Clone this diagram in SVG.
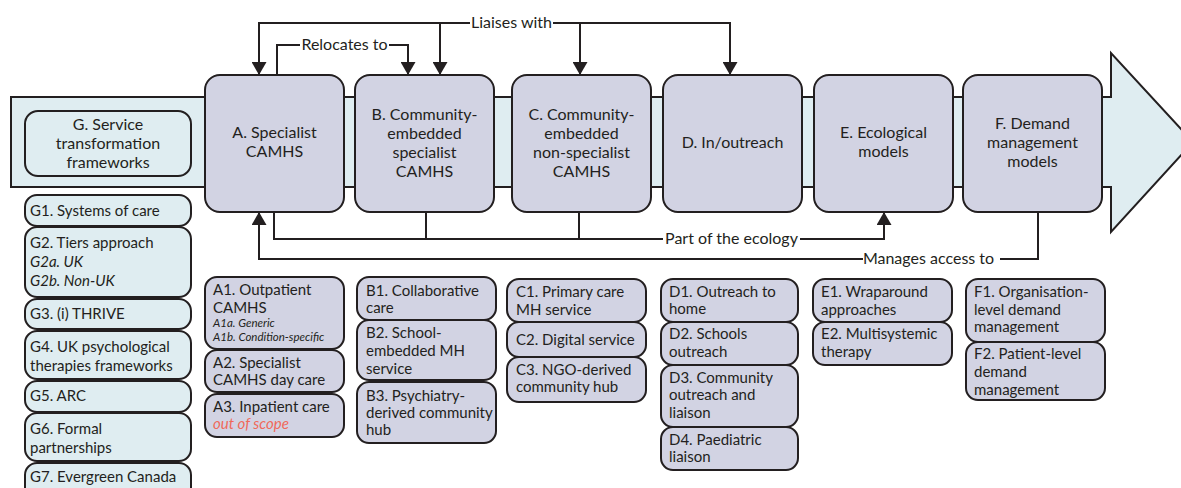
<svg xmlns="http://www.w3.org/2000/svg" width="1181" height="488" viewBox="0 0 1181 488">
<style>
text{font-family:Lato,"Open Sans","Liberation Sans",sans-serif;font-size:15px;fill:#231f20}
.c{text-anchor:middle;font-size:16px}
.it{font-style:italic}
.sm{font-size:11.5px;font-style:italic}
.red{fill:#f0695a;font-style:italic}
.bl{fill:#dfedf1;stroke:#231f20;stroke-width:2}
.lv{fill:#d2d3e3;stroke:#231f20;stroke-width:2}
.ln{fill:none;stroke:#231f20;stroke-width:2}
</style>
<defs>
<marker id="ah" markerUnits="userSpaceOnUse" viewBox="0 0 13 15" markerWidth="13" markerHeight="15" refX="13" refY="7.5" orient="auto">
<path d="M0,0 L13,7.5 L0,15 z" fill="#231f20"/>
</marker>
</defs>

<g id="arrow-band">
<polygon class="bl" points="11,97 1111,97 1111,53 1193,142 1111,232 1111,187 11,187"/>
</g>

<g id="G">
<rect class="bl" x="25" y="111" width="166" height="65" rx="13"/>
<text class="c" x="108" y="130">G. Service</text>
<text class="c" x="108" y="149">transformation</text>
<text class="c" x="108" y="168">frameworks</text>
</g>

<g id="A">
<rect class="lv" x="205" y="75" width="139" height="137" rx="15"/>
<text class="c" x="274.5" y="138">A. Specialist</text>
<text class="c" x="274.5" y="157">CAMHS</text>
</g>
<g id="B">
<rect class="lv" x="355" y="75" width="139" height="137" rx="15"/>
<text class="c" x="424.5" y="120">B. Community-</text>
<text class="c" x="424.5" y="139">embedded</text>
<text class="c" x="424.5" y="158">specialist</text>
<text class="c" x="424.5" y="177">CAMHS</text>
</g>
<g id="C">
<rect class="lv" x="512" y="75" width="139" height="137" rx="15"/>
<text class="c" x="581.5" y="120">C. Community-</text>
<text class="c" x="581.5" y="139">embedded</text>
<text class="c" x="581.5" y="158">non-specialist</text>
<text class="c" x="581.5" y="177">CAMHS</text>
</g>
<g id="D">
<rect class="lv" x="663" y="75" width="139" height="137" rx="15"/>
<text class="c" x="732.5" y="148">D. In/outreach</text>
</g>
<g id="E">
<rect class="lv" x="814" y="75" width="139" height="137" rx="15"/>
<text class="c" x="883.5" y="138">E. Ecological</text>
<text class="c" x="883.5" y="157">models</text>
</g>
<g id="F">
<rect class="lv" x="963" y="75" width="139" height="137" rx="15"/>
<text class="c" x="1032.5" y="129">F. Demand</text>
<text class="c" x="1032.5" y="148">management</text>
<text class="c" x="1032.5" y="167">models</text>
</g>

<g id="connectors">
<path class="ln" d="M470,23 H259 V75" marker-end="url(#ah)"/>
<path class="ln" d="M553,23 H730 V75" marker-end="url(#ah)"/>
<path class="ln" d="M440,23 V75" marker-end="url(#ah)"/>
<path class="ln" d="M580,23 V75" marker-end="url(#ah)"/>
<text class="c" x="511.5" y="28">Liaises with</text>
<path class="ln" d="M277,75 V45 H300"/>
<path class="ln" d="M389,45 H408 V75" marker-end="url(#ah)"/>
<text class="c" x="344.5" y="50">Relocates to</text>
<path class="ln" d="M274,212 V239 H663"/>
<path class="ln" d="M426,212 V239"/>
<path class="ln" d="M579,212 V239"/>
<path class="ln" d="M800,239 H884 V212" marker-end="url(#ah)"/>
<text class="c" x="731.5" y="244">Part of the ecology</text>
<path class="ln" d="M1038,212 V259 H1000"/>
<path class="ln" d="M863,259 H259 V212" marker-end="url(#ah)"/>
<text class="c" x="928.5" y="264">Manages access to</text>
</g>

<g id="G1"><rect class="bl" x="25" y="195" width="166" height="31" rx="12"/><text x="30" y="216">G1. Systems of care</text></g>
<g id="G2"><rect class="bl" x="25" y="227" width="166" height="70" rx="12"/><text x="30" y="248">G2. Tiers approach</text><text class="it" x="30" y="267">G2a. UK</text><text class="it" x="30" y="286">G2b. Non-UK</text></g>
<g id="G3"><rect class="bl" x="25" y="299" width="166" height="30" rx="12"/><text x="30" y="319">G3. (i) THRIVE</text></g>
<g id="G4"><rect class="bl" x="25" y="331" width="166" height="48" rx="12"/><text x="30" y="352">G4. UK psychological</text><text x="30" y="371">therapies frameworks</text></g>
<g id="G5"><rect class="bl" x="25" y="381" width="166" height="31" rx="12"/><text x="30" y="401">G5. ARC</text></g>
<g id="G6"><rect class="bl" x="25" y="413" width="166" height="48" rx="12"/><text x="30" y="434">G6. Formal</text><text x="30" y="453">partnerships</text></g>
<g id="G7"><rect class="bl" x="25" y="463" width="166" height="40" rx="12"/><text x="30" y="482">G7. Evergreen Canada</text></g>

<g id="A1"><rect class="lv" x="205" y="277" width="139" height="72" rx="12"/><text x="213" y="295">A1. Outpatient</text><text x="213" y="313">CAMHS</text><text class="sm" x="213" y="327">A1a. Generic</text><text class="sm" x="213" y="341">A1b. Condition-specific</text></g>
<g id="A2"><rect class="lv" x="205" y="350" width="139" height="42" rx="12"/><text x="213" y="368">A2. Specialist</text><text x="213" y="385">CAMHS day care</text></g>
<g id="A3"><rect class="lv" x="205" y="394" width="139" height="43" rx="12"/><text x="213" y="412">A3. Inpatient care</text><text class="red" x="213" y="429">out of scope</text></g>

<g id="B1"><rect class="lv" x="357" y="277" width="139" height="43" rx="12"/><text x="366" y="296">B1. Collaborative</text><text x="366" y="313">care</text></g>
<g id="B2"><rect class="lv" x="357" y="320" width="139" height="60" rx="12"/><text x="366" y="338">B2. School-</text><text x="366" y="356">embedded MH</text><text x="366" y="374">service</text></g>
<g id="B3"><rect class="lv" x="357" y="382" width="139" height="61" rx="12"/><text x="366" y="401">B3. Psychiatry-</text><text x="366" y="418">derived community</text><text x="366" y="435">hub</text></g>

<g id="C1"><rect class="lv" x="507" y="279" width="139" height="43" rx="12"/><text x="516" y="297">C1. Primary care</text><text x="516" y="315">MH service</text></g>
<g id="C2"><rect class="lv" x="507" y="322" width="139" height="35" rx="12"/><text x="516" y="345">C2. Digital service</text></g>
<g id="C3"><rect class="lv" x="507" y="357" width="139" height="45" rx="12"/><text x="516" y="375">C3. NGO-derived</text><text x="516" y="392">community hub</text></g>

<g id="D1"><rect class="lv" x="661" y="279" width="137" height="43" rx="12"/><text x="669" y="297">D1. Outreach to</text><text x="669" y="314">home</text></g>
<g id="D2"><rect class="lv" x="661" y="322" width="137" height="43" rx="12"/><text x="669" y="339">D2. Schools</text><text x="669" y="357">outreach</text></g>
<g id="D3"><rect class="lv" x="661" y="365" width="137" height="62" rx="12"/><text x="669" y="383">D3. Community</text><text x="669" y="400">outreach and</text><text x="669" y="418">liaison</text></g>
<g id="D4"><rect class="lv" x="661" y="427" width="137" height="43" rx="12"/><text x="669" y="445">D4. Paediatric</text><text x="669" y="462">liaison</text></g>

<g id="E1"><rect class="lv" x="813" y="279" width="139" height="43" rx="12"/><text x="821" y="297">E1. Wraparound</text><text x="821" y="315">approaches</text></g>
<g id="E2"><rect class="lv" x="813" y="322" width="139" height="43" rx="12"/><text x="821" y="339">E2. Multisystemic</text><text x="821" y="357">therapy</text></g>

<g id="F1"><rect class="lv" x="966" y="279" width="139" height="63" rx="12"/><text x="974" y="297">F1. Organisation-</text><text x="974" y="315">level demand</text><text x="974" y="332">management</text></g>
<g id="F2"><rect class="lv" x="966" y="342" width="139" height="58" rx="12"/><text x="974" y="359">F2. Patient-level</text><text x="974" y="377">demand</text><text x="974" y="395">management</text></g>
</svg>
